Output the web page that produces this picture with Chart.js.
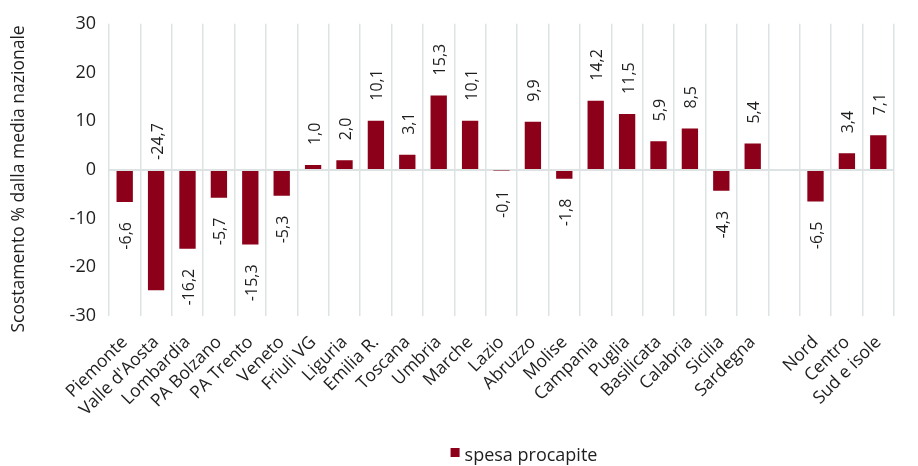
<!DOCTYPE html>
<html>
<head>
<meta charset="utf-8">
<script src="https://cdn.jsdelivr.net/npm/chart.js@4.4.1/dist/chart.umd.min.js"></script>
<style>
  html, body { margin: 0; padding: 0; background: #fff; }
  #wrap { width: 918px; height: 466px; }
</style>
</head>
<body>
<div id="wrap"><canvas id="chart" width="918" height="466"></canvas></div>
<script>
/* Scostamento spesa procapite dalla media nazionale */
const regions = ['Piemonte', "Valle d'Aosta", 'Lombardia', 'PA Bolzano', 'PA Trento', 'Veneto',
  'Friuli VG', 'Liguria', 'Emilia R.', 'Toscana', 'Umbria', 'Marche', 'Lazio', 'Abruzzo',
  'Molise', 'Campania', 'Puglia', 'Basilicata', 'Calabria', 'Sicilia', 'Sardegna',
  '', 'Nord', 'Centro', 'Sud e isole'];
const spesa = [-6.6, -24.7, -16.2, -5.7, -15.3, -5.3, 1.0, 2.0, 10.1, 3.1, 15.3, 10.1, -0.1, 9.9,
  -1.8, 14.2, 11.5, 5.9, 8.5, -4.3, 5.4, null, -6.5, 3.4, 7.1];
const yTicks = [-30, -20, -10, 0, 10, 20, 30];
const yTitle = 'Scostamento % dalla media nazionale';

const font = "'Open Sans', 'Noto Sans', sans-serif";
const barColor = '#8c0019';
const gridColor = '#dde3e3';
const textColor = '#1e1e1e';

// value labels, rotated, Excel-like "outside end"
const valueLabels = {
  id: 'valueLabels',
  afterDatasetsDraw(chart) {
    const ctx = chart.ctx;
    const area = chart.chartArea;
    const zeroY = chart.scales.y.getPixelForValue(0);
    const meta = chart.getDatasetMeta(0);
    ctx.save();
    ctx.font = '16px ' + font;
    ctx.fillStyle = textColor;
    ctx.textBaseline = 'middle';
    meta.data.forEach((bar, i) => {
      const v = spesa[i];
      if (v === null) return;
      const txt = v.toFixed(1).replace('.', ',');
      const w = ctx.measureText(txt).width;
      ctx.save();
      ctx.translate(bar.x + 2, 0);
      ctx.rotate(-Math.PI / 2);
      if (v >= 0) {
        ctx.textAlign = 'left';
        ctx.fillText(txt, -(bar.y - 20), 0);
      } else if (bar.y + 19 + w > area.bottom + 8) {
        ctx.textAlign = 'left';
        ctx.fillText(txt, -(zeroY - 10), 0);
      } else {
        ctx.textAlign = 'right';
        ctx.fillText(txt, -(bar.y + 20), 0);
      }
      ctx.restore();
    });
    ctx.restore();
  }
};

// axis title + legend drawn by hand to sit where the original has them
const extras = {
  id: 'extras',
  afterDraw(chart) {
    const ctx = chart.ctx;
    const area = chart.chartArea;
    ctx.save();
    ctx.fillStyle = textColor;
    ctx.font = '17.5px ' + font;
    ctx.textAlign = 'center';
    ctx.textBaseline = 'middle';
    ctx.save();
    ctx.translate(19, (area.top + area.bottom) / 2 + 9);
    ctx.rotate(-Math.PI / 2);
    ctx.fillText(yTitle, 0, 0);
    ctx.restore();

    const label = 'spesa procapite';
    ctx.font = '18px ' + font;
    ctx.textAlign = 'left';
    const w = ctx.measureText(label).width;
    const total = 9 + 4 + w;
    const x0 = (area.left + area.right) / 2 + 24 - total / 2;
    const y = chart.height - 8;
    ctx.fillStyle = barColor;
    ctx.fillRect(x0 - 2, y - 10, 9, 9);
    ctx.fillStyle = textColor;
    ctx.fillText(label, x0 + 12, y - 2);
    ctx.restore();
  }
};

new Chart(document.getElementById('chart'), {
  type: 'bar',
  data: {
    labels: regions,
    datasets: [{
      label: 'spesa procapite',
      data: spesa,
      backgroundColor: barColor,
      borderWidth: 0,
      barPercentage: 0.52,
      categoryPercentage: 1
    }]
  },
  options: {
    responsive: false,
    animation: false,
    layout: { padding: { top: 19, right: 24, left: 0, bottom: 0 } },
    plugins: {
      legend: { display: false },
      tooltip: { enabled: false }
    },
    scales: {
      x: {
        offset: true,
        grid: { offset: true, color: gridColor, lineWidth: 1.5, drawTicks: false },
        border: { display: false },
        ticks: {
          autoSkip: false,
          minRotation: 45,
          maxRotation: 45,
          padding: 16,
          color: textColor,
          font: { family: font, size: 17.5 }
        },
        afterFit(scale) { scale.height = 150; }
      },
      y: {
        min: -30,
        max: 30,
        afterBuildTicks(scale) { scale.ticks = yTicks.map(v => ({ value: v })); },
        grid: {
          drawTicks: false,
          lineWidth: 2,
          color: c => (c.tick && c.tick.value === 0 ? gridColor : 'rgba(0,0,0,0)')
        },
        border: { display: false },
        ticks: {
          padding: 13,
          color: textColor,
          font: { family: font, size: 18 }
        },
        afterFit(scale) { scale.width = 109; }
      }
    }
  },
  plugins: [valueLabels, extras]
});
</script>
</body>
</html>
